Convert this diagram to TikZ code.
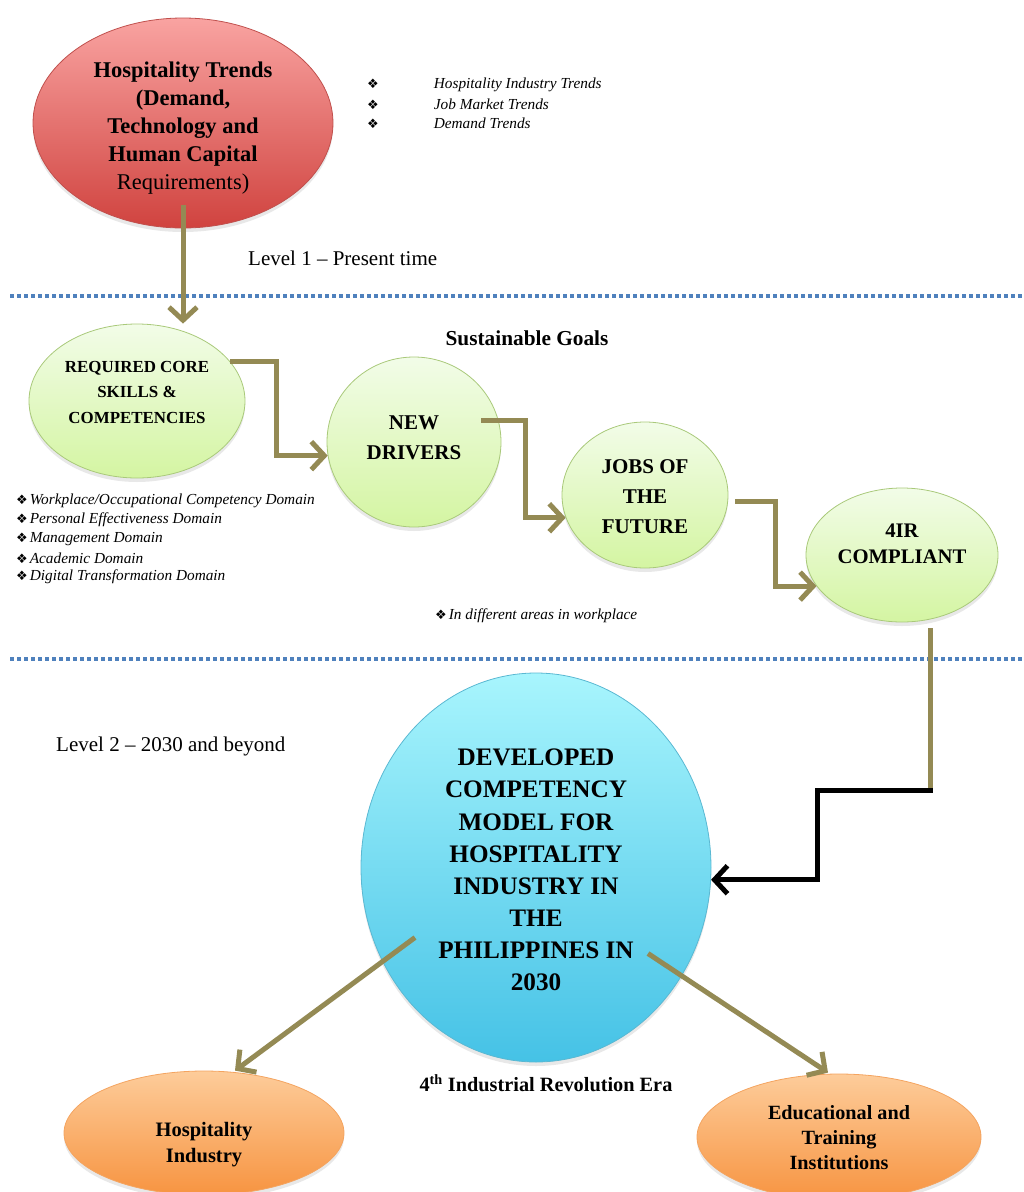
\documentclass[tikz,border=0pt]{standalone}
\usepackage{fontspec}
\setmainfont{Liberation Serif}
\newfontfamily\symf{DejaVu Sans}
\usetikzlibrary{shapes.geometric,arrows.meta,calc,shadows}
\definecolor{redtop}{HTML}{F9A3A1}
\definecolor{redbot}{HTML}{D0433F}
\definecolor{redline}{HTML}{C0504D}
\definecolor{grtop}{HTML}{F2FCE8}
\definecolor{grbot}{HTML}{D4F5A2}
\definecolor{grline}{HTML}{A9C97A}
\definecolor{bltop}{HTML}{A8F5FD}
\definecolor{blbot}{HTML}{45C2E6}
\definecolor{blline}{HTML}{5AB8D2}
\definecolor{ortop}{HTML}{FDCC9A}
\definecolor{orbot}{HTML}{F79441}
\definecolor{orline}{HTML}{F4A460}
\definecolor{olivec}{HTML}{948A54}
\definecolor{dotblue}{HTML}{4F81BD}
\tikzset{
  ellbase/.style={ellipse, inner sep=0pt, line width=0.8pt,
    drop shadow={shadow xshift=0pt, shadow yshift=-4pt, opacity=0.18}},
  redell/.style={ellbase, draw=redline, top color=redtop, bottom color=redbot},
  grell/.style={ellbase, draw=grline, top color=grtop, bottom color=grbot},
  blell/.style={ellbase, draw=blline, top color=bltop, bottom color=blbot},
  orell/.style={ellbase, draw=orline, top color=ortop, bottom color=orbot},
  tx/.style={align=center, inner sep=0pt, text=black},
  conn/.style={draw=olivec, line width=5pt, line join=miter,
    -{Straight Barb[length=13pt, width=28pt]}},
  olv/.style={draw=olivec, line width=5pt},
  blkconn/.style={draw=black, line width=5pt, line join=miter,
    -{Straight Barb[length=13pt, width=28pt]}},
  dotline/.style={draw=dotblue, line width=3.5pt, dash pattern=on 4pt off 3pt},
  bul/.style={anchor=west, inner sep=0pt, font=\fontsize{15.3}{19}\selectfont\itshape},
  lvl/.style={anchor=west, inner sep=0pt, font=\fontsize{21}{24}\selectfont}
}
\newcommand{\dia}{{\symf\fontsize{13}{15}\selectfont ❖}}
\begin{document}
\begin{tikzpicture}[x=1pt,y=-1pt]
\useasboundingbox (0,0) rectangle (1024,1192);

% separators
\coordinate (s1a) at (10,296); \coordinate (s1b) at (1024,296);
\coordinate (s2a) at (10,659); \coordinate (s2b) at (1024,659);
\draw[dotline] (s1a) -- (s1b);
\draw[dotline] (s2a) -- (s2b);

% ellipses
\node[redell, minimum width=300pt, minimum height=210pt] (ht) at (183,123) {};
\node[grell, minimum width=216pt, minimum height=154pt] (rc) at (137,401) {};
\node[grell, minimum width=174pt, minimum height=170pt] (nd) at (414,442) {};
\node[grell, minimum width=166pt, minimum height=146pt] (jf) at (645,495) {};
\node[grell, minimum width=192pt, minimum height=134pt] (fc) at (902,555) {};
\node[blell, minimum width=350pt, minimum height=389pt] (bl) at (536,867.5) {};
\node[orell, minimum width=280pt, minimum height=124pt] (ho) at (204,1133) {};
\node[orell, minimum width=284pt, minimum height=126pt] (et) at (839,1137) {};

% ellipse texts
\node[tx, font=\fontsize{22.5}{28}\selectfont\bfseries] (htt) at (183,128)
  {Hospitality Trends\\(Demand,\\Technology and\\Human Capital\\{\mdseries Requirements)}};
\node[tx, font=\fontsize{16.9}{25.5}\selectfont\bfseries] (rct) at (137,392)
  {REQUIRED CORE\\SKILLS \&\\COMPETENCIES};
\node[tx, font=\fontsize{21}{30}\selectfont\bfseries] (ndt) at (414,438)
  {NEW\\DRIVERS};
\node[tx, font=\fontsize{21}{30}\selectfont\bfseries] (jft) at (645,497)
  {JOBS OF\\THE\\FUTURE};
\node[tx, font=\fontsize{20.7}{26}\selectfont\bfseries] (fct) at (902,544)
  {4IR\\COMPLIANT};
\node[tx, font=\fontsize{25.2}{32.1}\selectfont\bfseries] (blt) at (536,870)
  {DEVELOPED\\COMPETENCY\\MODEL FOR\\HOSPITALITY\\INDUSTRY IN\\THE\\PHILIPPINES IN\\2030};
\node[tx, font=\fontsize{20.5}{26}\selectfont\bfseries] (hot) at (204,1145)
  {Hospitality\\Industry};
\node[tx, font=\fontsize{20.2}{25}\selectfont\bfseries] (ett) at (839,1138)
  {Educational and\\Training\\Institutions};

% free texts
\node[bul] (b1) at (367,85) {\dia\hspace{55pt}Hospitality Industry Trends};
\node[bul] (b2) at (367,104) {\dia\hspace{55pt}Job Market Trends};
\node[bul] (b3) at (367,123) {\dia\hspace{55pt}Demand Trends};
\node[lvl] (lv1) at (248,258) {Level 1 – Present time};
\node[tx, font=\fontsize{21.3}{24}\selectfont\bfseries] (sg) at (527,338) {Sustainable Goals};
\node[bul] (c1) at (16,501) {\dia\hspace{2pt}Workplace/Occupational Competency Domain};
\node[bul] (c2) at (16,520) {\dia\hspace{2pt}Personal Effectiveness Domain};
\node[bul] (c3) at (16,539) {\dia\hspace{2pt}Management Domain};
\node[bul] (c4) at (16,558) {\dia\hspace{2pt}Academic Domain};
\node[bul] (c5) at (16,577) {\dia\hspace{2pt}Digital Transformation Domain};
\node[bul] (dw) at (435,616) {\dia\hspace{2pt}In different areas in workplace};
\node[lvl] (lv2) at (56,746) {Level 2 – 2030 and beyond};
\node[tx, font=\fontsize{20.3}{24}\selectfont\bfseries] (ire) at (546,1083)
  {4\textsuperscript{th} Industrial Revolution Era};

% connectors
\draw[conn] ($(ht.south)+(0,-23)$) -- (ht.south |- rc.north);
\draw[conn] (rc.23) -- ++(46,0) |- (nd.189);
\draw[conn] ($(nd.center)+(67,-22)$) -- ++(44,0) |- (jf.196);
\draw[conn] ($(jf.east)+(7,6)$) -- ++(40,0) |- (fc.200);
\coordinate (k) at ($(fc.south)+(28,168)$);
\draw[olv] ($(fc.south)+(28,6)$) -- (k);
\draw[blkconn] ($(k)+(2.5,0)$) -- ++(-115.5,0) |- (bl.356);
\draw[conn] ($(bl.center)+(-121,70)$) -- ($(ho.north)+(31,0)$);
\draw[conn] ($(bl.center)+(112,86)$) -- ($(et.north)+(-11,-1)$);
\end{tikzpicture}
\end{document}
